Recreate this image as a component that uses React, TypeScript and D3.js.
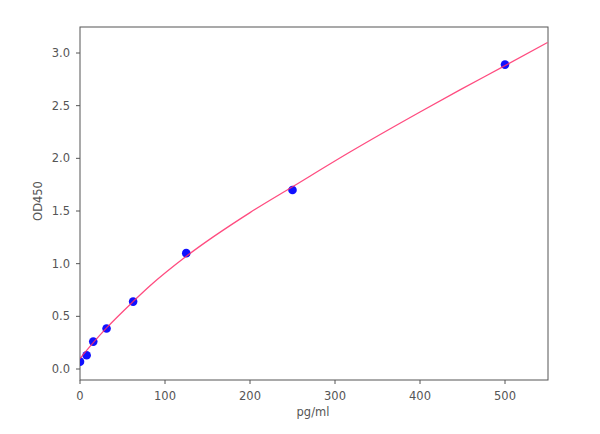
import React from "react";
import * as d3 from "d3";

const concentrations = [0, 7.8, 15.6, 31.25, 62.5, 125, 250, 500];
const odValues = [0.07, 0.13, 0.26, 0.385, 0.64, 1.1, 1.7, 2.89];

const curveX = [0, 15.6, 31.25, 62.5, 82.4, 125, 200, 250, 317.6, 400, 447, 500, 550];
const curveY = [0.1, 0.25, 0.39, 0.64, 0.79, 1.07, 1.485, 1.73, 2.06, 2.44, 2.65, 2.88, 3.1];

const xTicks = [0, 100, 200, 300, 400, 500];
const yTicks = [0, 0.5, 1.0, 1.5, 2.0, 2.5, 3.0];

const W = 600, H = 434;
const L = 80, R = 548, T = 27, B = 380;

export default function App() {
  const x = d3.scaleLinear().domain([0, 550]).range([L, R - 0.5]);
  const yy = d3.scaleLinear().domain([0, 3]).range([369, 53]);
  const line = d3
    .line<number>()
    .x((_, i) => x(curveX[i]))
    .y((d) => yy(d))
    .curve(d3.curveMonotoneX);
  const axisColor = "#555";
  const textColor = "#555";
  const font = "DejaVu Sans, sans-serif";
  return (
    <svg width={W} height={H} style={{ position: "absolute", left: 0, top: 0 }}>
      <rect x={0} y={0} width={W} height={H} fill="#fff" />
      <rect x={L} y={T} width={R - L} height={B - T} fill="none" stroke={axisColor} strokeWidth={1} />
      {xTicks.map((t) => (
        <g key={"x" + t}>
          <line x1={x(t)} x2={x(t)} y1={B} y2={B + 4} stroke={axisColor} />
          <text x={x(t)} y={400} textAnchor="middle" fontSize={11.5} fill={textColor} fontFamily={font}>
            {t}
          </text>
        </g>
      ))}
      {yTicks.map((t) => (
        <g key={"y" + t}>
          <line x1={L - 4} x2={L} y1={yy(t)} y2={yy(t)} stroke={axisColor} />
          <text x={70} y={yy(t) + 4} textAnchor="end" fontSize={11.5} fill={textColor} fontFamily={font}>
            {t.toFixed(1)}
          </text>
        </g>
      ))}
      <text x={313} y={416} textAnchor="middle" fontSize={11.5} fill={textColor} fontFamily={font}>
        pg/ml
      </text>
      <text
        transform={`translate(42,${201}) rotate(-90)`}
        textAnchor="middle"
        fontSize={11.5}
        fill={textColor}
        fontFamily={font}
      >
        OD450
      </text>
      <defs>
        <clipPath id="clip">
          <rect x={L} y={T} width={R - L} height={B - T} />
        </clipPath>
      </defs>
      <g clipPath="url(#clip)">
        {concentrations.map((c, i) => (
          <circle key={i} cx={x(c)} cy={yy(odValues[i])} r={4.3} fill="#1010ff" />
        ))}
        <path d={line(curveY) || ""} fill="none" stroke="#ff2d6a" strokeWidth={1.3} opacity={0.85} />
      </g>
    </svg>
  );
}
